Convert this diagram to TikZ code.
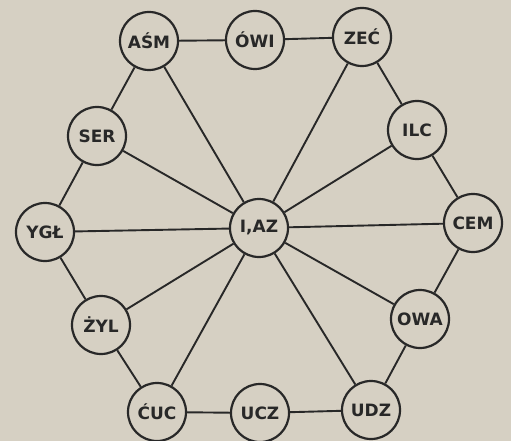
\documentclass[tikz,border=0pt]{standalone}
\usepackage{fontspec}
\setmainfont{DejaVu Sans}
\definecolor{paper}{RGB}{214,208,195}
\definecolor{ink}{RGB}{40,40,40}
\begin{document}
\begin{tikzpicture}[x=1pt,y=-1pt,
  cell/.style={circle,draw=ink,line width=2.2pt,minimum size=58pt,inner sep=0pt,
    font=\fontsize{17}{17}\selectfont\bfseries,text=ink},
  link/.style={draw=ink,line width=1.9pt}]
\fill[paper] (0,0) rectangle (511,441);
\useasboundingbox (0,0) rectangle (511,441);
\node[cell] (c) at (259,228) {I,AZ};
\node[cell] (asm) at (149,41) {AŚM};
\node[cell] (owi) at (255,40) {ÓWI};
\node[cell] (zec) at (362,37) {ZEĆ};
\node[cell] (ilc) at (417,130) {ILC};
\node[cell] (cem) at (473,223) {CEM};
\node[cell] (owa) at (420,319) {OWA};
\node[cell] (udz) at (371,410) {UDZ};
\node[cell] (ucz) at (260,413) {UCZ};
\node[cell] (cuc) at (157,412) {ĆUC};
\node[cell] (zyl) at (101,325) {ŻYL};
\node[cell] (ygl) at (45,232) {YGŁ};
\node[cell] (ser) at (97,136) {SER};
\foreach \a/\b in {asm/owi,owi/zec,zec/ilc,ilc/cem,cem/owa,owa/udz,udz/ucz,ucz/cuc,cuc/zyl,zyl/ygl,ygl/ser,ser/asm}
  \draw[link] (\a) -- (\b);
\foreach \b in {asm,zec,ilc,cem,owa,udz,cuc,zyl,ygl,ser}
  \draw[link] (c) -- (\b);
\end{tikzpicture}
\end{document}
